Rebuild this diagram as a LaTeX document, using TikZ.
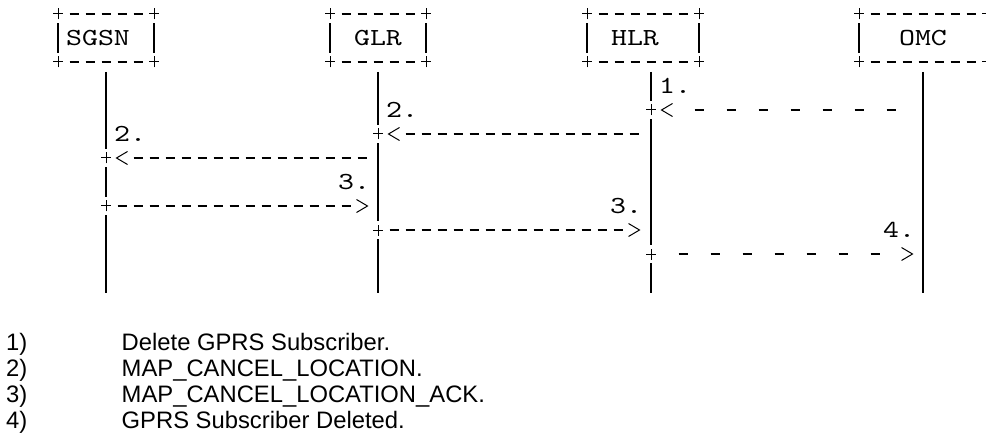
\documentclass[tikz,border=0pt]{standalone}
\usepackage{fontspec}
\setmainfont{Liberation Sans}
\newfontfamily\asc{lmmono10-regular.otf}[FakeStretch=1.24]
\usetikzlibrary{positioning}

\tikzset{
  ent/.style={font=\asc\fontsize{24.5}{29}\selectfont, inner sep=0pt},
  lbl/.style={font=\asc\fontsize{24.5}{29}\selectfont, inner sep=0pt, anchor=west},
  note/.style={font=\fontsize{23.8}{28}\selectfont, inner sep=0pt, anchor=base west},
  bar/.style={line width=1.8pt},
  dsh/.style={line width=1.2pt, dash pattern=on 9pt off 7pt, dash phase=12.5pt},
  wide/.style={line width=1.2pt, dash pattern=on 9pt off 23pt, dash phase=28.5pt},
  crs/.style={fill=white, inner sep=0pt, minimum width=12pt, minimum height=18pt,
    path picture={\draw[line width=1pt]
      ([xshift=-5pt]path picture bounding box.center) -- ([xshift=5pt]path picture bounding box.center)
      ([yshift=-5.5pt]path picture bounding box.center) -- ([yshift=5.5pt]path picture bounding box.center);}},
  ltip/.style={inner sep=0pt, minimum width=14pt, minimum height=16pt,
    path picture={\draw[line width=1pt]
      ([shift={(5.5pt,6.5pt)}]path picture bounding box.center) -- ([xshift=-5.5pt]path picture bounding box.center)
      -- ([shift={(5.5pt,-6.5pt)}]path picture bounding box.center);}},
  rtip/.style={inner sep=0pt, minimum width=14pt, minimum height=16pt,
    path picture={\draw[line width=1pt]
      ([shift={(-5.5pt,6.5pt)}]path picture bounding box.center) -- ([xshift=5.5pt]path picture bounding box.center)
      -- ([shift={(-5.5pt,-6.5pt)}]path picture bounding box.center);}}
}

\begin{document}
\begin{tikzpicture}[x=1pt, y=-1pt]
  \useasboundingbox (0,0) rectangle (986,441);

  \node[ent] (sgsn) at (98,38) {SGSN};
  \node[ent] (glr) at (378,38) {GLR};
  \node[ent] (hlr) at (635,38) {HLR};
  \node[ent] (omc) at (923,38) {OMC};

  \foreach \l/\r in {58/154, 330/426, 587/699, 859/987} {
    \draw[bar] (\l,21) -- (\l,57);
    \draw[bar] (\r,21) -- (\r,57);
    \draw[dsh] (\l+8,14) -- (\r-8,14);
    \draw[dsh] (\l+8,62) -- (\r-8,62);
    \foreach \y in {14,62} {
      \node[crs] at (\l,\y) {};
      \node[crs] at (\r,\y) {};
    }
  }

  \foreach \x in {106,378,651,923}
    \draw[bar] (\x,72) -- (\x,293);

  % HLR <- OMC
  \node[lbl] (l1) at (659,86) {1.};
  \node[crs] (p1) at (651,110) {};
  \node[ltip] (t1) at (667,110) {};
  \coordinate (e1) at (923,110);
  \draw[wide] ([xshift=24pt]t1.center) -- ([xshift=-24pt]e1);

  % GLR <- HLR
  \node[lbl] (l2) at (386,110) {2.};
  \node[crs] (p2) at (378,134) {};
  \node[ltip] (t2) at (394,134) {};
  \coordinate (e2) at (651,134);
  \draw[dsh] ([xshift=8pt]t2.center) -- ([xshift=-8pt]e2);

  % SGSN <- GLR
  \node[lbl] (l3) at (114,134) {2.};
  \node[crs] (p3) at (106,158) {};
  \node[ltip] (t3) at (122,158) {};
  \coordinate (e3) at (378,158);
  \draw[dsh] ([xshift=8pt]t3.center) -- ([xshift=-8pt]e3);

  % SGSN -> GLR
  \node[lbl] (l4) at (338,182) {3.};
  \node[crs] (p4) at (106,206) {};
  \node[rtip] (t4) at (362,206) {};
  \draw[dsh] ([xshift=8pt]p4.center) -- ([xshift=-8pt]t4.center);

  % GLR -> HLR
  \node[lbl] (l5) at (610,206) {3.};
  \node[crs] (p5) at (378,230) {};
  \node[rtip] (t5) at (634,230) {};
  \draw[dsh] ([xshift=8pt]p5.center) -- ([xshift=-8pt]t5.center);

  % HLR -> OMC
  \node[lbl] (l6) at (883,230) {4.};
  \node[crs] (p6) at (651,254) {};
  \node[rtip] (t6) at (907,254) {};
  \draw[wide] ([xshift=24pt]p6.center) -- ([xshift=-24pt]t6.center);

  \foreach \txt [count=\i] in {Delete GPRS Subscriber., MAP\_CANCEL\_LOCATION.,
      MAP\_CANCEL\_LOCATION\_ACK., GPRS Subscriber Deleted.} {
    \node[note] (k\i) at (6,{350+26.1*(\i-1)}) {\i)};
    \node[note] (d\i) at (121.5,{350+26.1*(\i-1)}) {\txt};
  }
\end{tikzpicture}
\end{document}
